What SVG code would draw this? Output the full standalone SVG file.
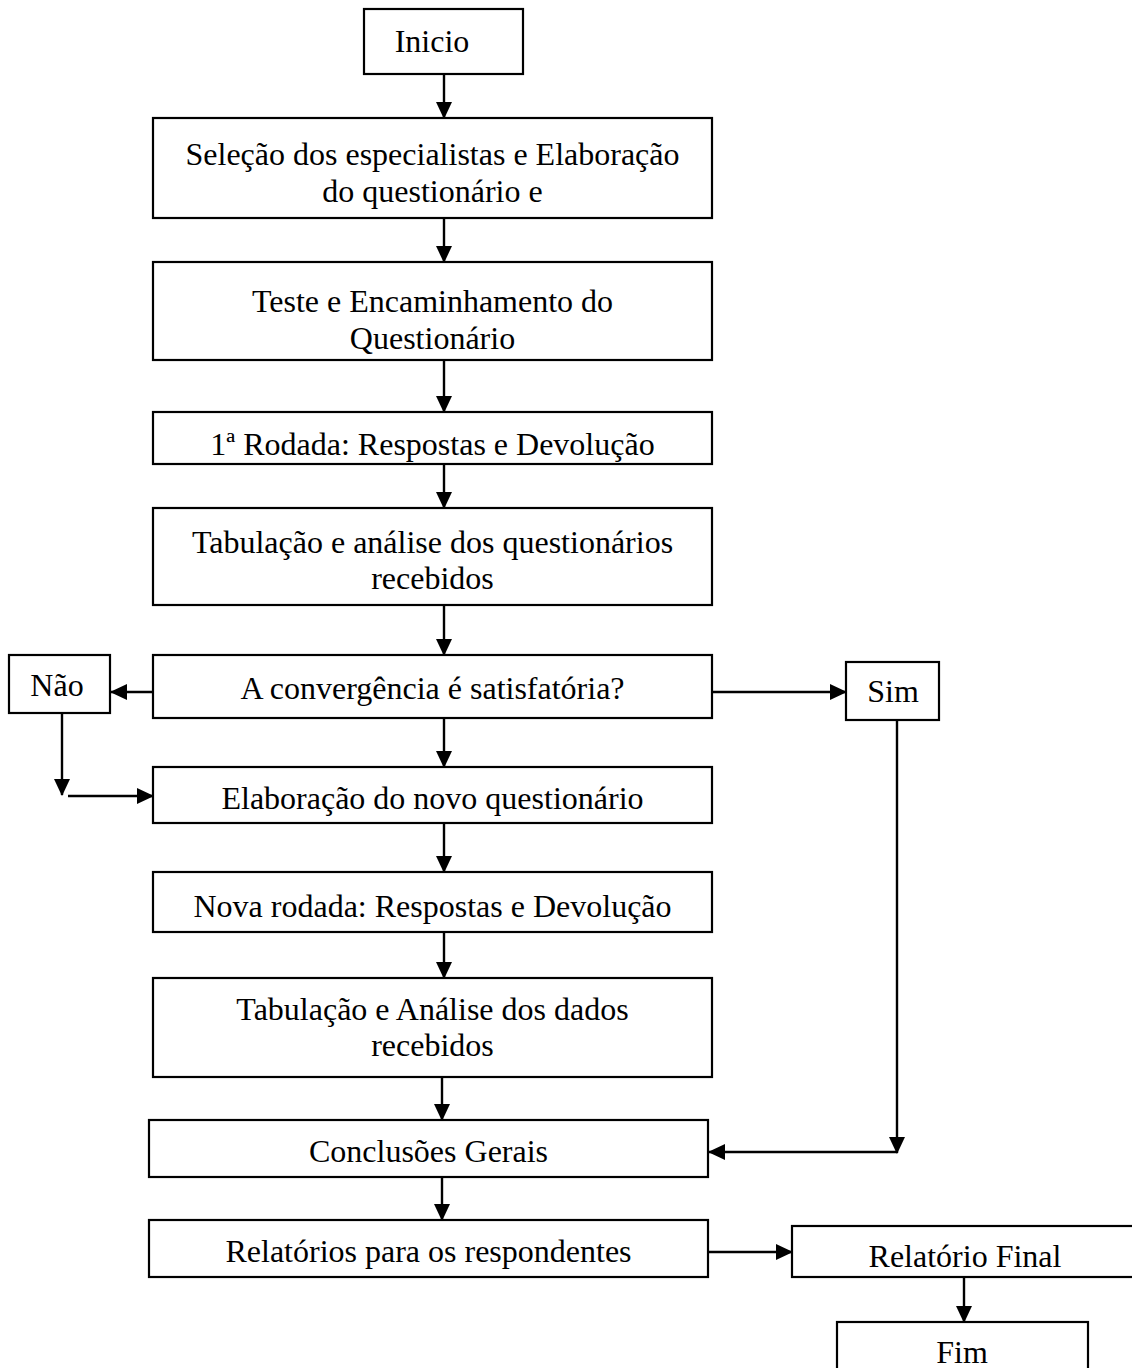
<svg xmlns="http://www.w3.org/2000/svg" width="1132" height="1368" viewBox="0 0 1132 1368">
<defs>
<style>
.box{fill:#fff;stroke:#000;stroke-width:2.2}
.t{font-family:"Liberation Serif","Times New Roman",serif;font-size:32px;fill:#000;text-anchor:middle}
.c{fill:none;stroke:#000;stroke-width:2.4}
</style>
<marker id="ah" markerUnits="userSpaceOnUse" markerWidth="17" markerHeight="16" refX="16" refY="8" orient="auto" viewBox="0 0 17 16">
<path d="M0,0 L17,8 L0,16 z" fill="#000"/>
</marker>
</defs>
<rect width="1132" height="1368" fill="#fff"/>
<g id="connectors">
<line class="c" x1="444" y1="74" x2="444" y2="118" marker-end="url(#ah)"/>
<line class="c" x1="444" y1="218" x2="444" y2="262" marker-end="url(#ah)"/>
<line class="c" x1="444" y1="360" x2="444" y2="412" marker-end="url(#ah)"/>
<line class="c" x1="444" y1="464" x2="444" y2="508" marker-end="url(#ah)"/>
<line class="c" x1="444" y1="605" x2="444" y2="655" marker-end="url(#ah)"/>
<line class="c" x1="153" y1="692" x2="111" y2="692" marker-end="url(#ah)"/>
<line class="c" x1="712" y1="692" x2="846" y2="692" marker-end="url(#ah)"/>
<line class="c" x1="444" y1="718" x2="444" y2="767" marker-end="url(#ah)"/>
<line class="c" x1="62" y1="713" x2="62" y2="795" marker-end="url(#ah)"/>
<line class="c" x1="68" y1="796" x2="153" y2="796" marker-end="url(#ah)"/>
<line class="c" x1="444" y1="823" x2="444" y2="872" marker-end="url(#ah)"/>
<line class="c" x1="444" y1="932" x2="444" y2="978" marker-end="url(#ah)"/>
<line class="c" x1="442" y1="1077" x2="442" y2="1120" marker-end="url(#ah)"/>
<line class="c" x1="897" y1="720" x2="897" y2="1153" marker-end="url(#ah)"/>
<line class="c" x1="897" y1="1152" x2="709" y2="1152" marker-end="url(#ah)"/>
<line class="c" x1="442" y1="1177" x2="442" y2="1220" marker-end="url(#ah)"/>
<line class="c" x1="708" y1="1252" x2="792" y2="1252" marker-end="url(#ah)"/>
<line class="c" x1="964" y1="1277" x2="964" y2="1322" marker-end="url(#ah)"/>
</g>
<g id="inicio"><rect class="box" x="364" y="9" width="159" height="65"/><text class="t" x="432" y="52">Inicio</text></g>
<g id="selecao"><rect class="box" x="153" y="118" width="559" height="100"/><text class="t" x="432.5" y="165">Seleção dos especialistas e Elaboração</text><text class="t" x="432.5" y="202">do questionário e</text></g>
<g id="teste"><rect class="box" x="153" y="262" width="559" height="98"/><text class="t" x="432.5" y="312">Teste e Encaminhamento do</text><text class="t" x="432.5" y="349">Questionário</text></g>
<g id="rodada1"><rect class="box" x="153" y="412" width="559" height="52"/><text class="t" x="432.5" y="455">1ª Rodada: Respostas e Devolução</text></g>
<g id="tabulacao1"><rect class="box" x="153" y="508" width="559" height="97"/><text class="t" x="432.5" y="553">Tabulação e análise dos questionários</text><text class="t" x="432.5" y="589">recebidos</text></g>
<g id="convergencia"><rect class="box" x="153" y="655" width="559" height="63"/><text class="t" x="432.5" y="699">A convergência é satisfatória?</text></g>
<g id="nao"><rect class="box" x="9" y="655" width="101" height="58"/><text class="t" x="57" y="696">Não</text></g>
<g id="sim"><rect class="box" x="846" y="662" width="93" height="58"/><text class="t" x="893" y="702">Sim</text></g>
<g id="elaboracao"><rect class="box" x="153" y="767" width="559" height="56"/><text class="t" x="432.5" y="809">Elaboração do novo questionário</text></g>
<g id="novarodada"><rect class="box" x="153" y="872" width="559" height="60"/><text class="t" x="432.5" y="917">Nova rodada: Respostas e Devolução</text></g>
<g id="tabulacao2"><rect class="box" x="153" y="978" width="559" height="99"/><text class="t" x="432.5" y="1020">Tabulação e Análise dos dados</text><text class="t" x="432.5" y="1056">recebidos</text></g>
<g id="conclusoes"><rect class="box" x="149" y="1120" width="559" height="57"/><text class="t" x="428.5" y="1162">Conclusões Gerais</text></g>
<g id="relatorios"><rect class="box" x="149" y="1220" width="559" height="57"/><text class="t" x="428.5" y="1262">Relatórios para os respondentes</text></g>
<g id="relfinal"><rect class="box" x="792" y="1226" width="346" height="51"/><text class="t" x="965" y="1267">Relatório Final</text></g>
<g id="fim"><rect class="box" x="837" y="1322" width="251" height="60"/><text class="t" x="962" y="1363">Fim</text></g>
</svg>
